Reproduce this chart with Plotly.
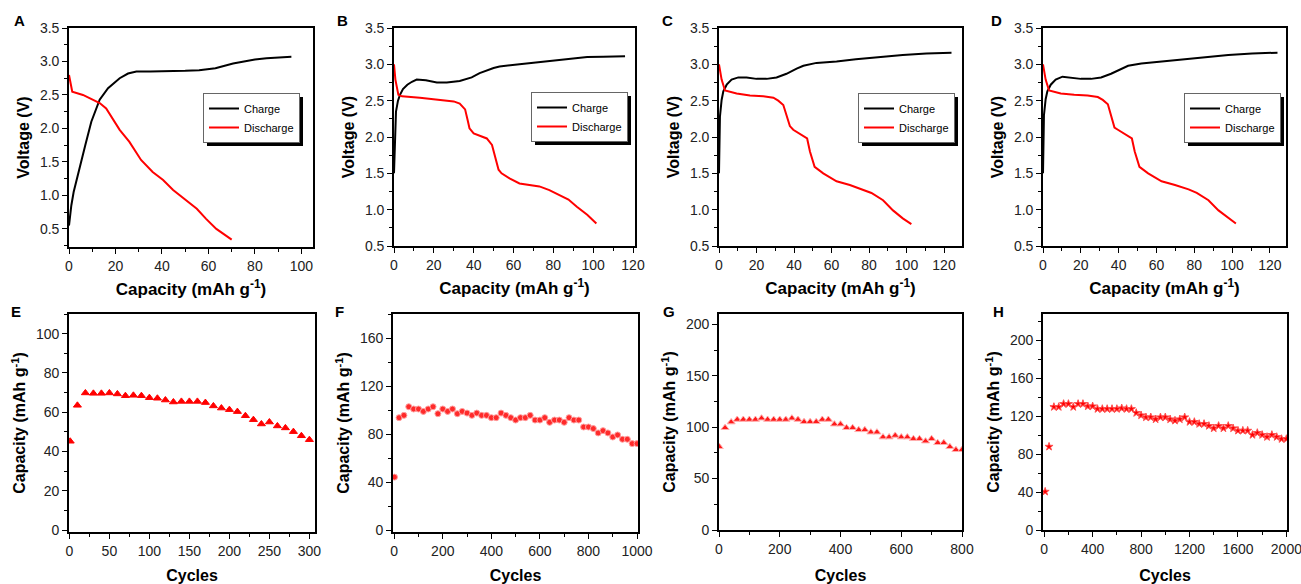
import plotly.graph_objects as go

W, H = 1301, 584

# ---------------- data: voltage profiles (top row) ----------------
a_charge_cap = [0, 1, 2, 4, 7, 9.6, 13.2, 16.8, 21.8, 25.4, 29, 35, 44.8, 50, 56, 63, 70.6, 75, 80, 85, 89, 95.7]
a_charge_v = [0.55, 0.85, 1.05, 1.35, 1.75, 2.1, 2.43, 2.6, 2.75, 2.82, 2.85, 2.85, 2.85, 2.86, 2.87, 2.9, 2.97, 3.0, 3.03, 3.05, 3.06, 3.07]
a_dis_cap = [0, 1.4, 6, 10.3, 13.2, 16, 19.7, 21.8, 26, 31, 36, 40.5, 44.8, 50.5, 55, 59, 63.4, 70]
a_dis_v = [2.8, 2.55, 2.5, 2.43, 2.38, 2.3, 2.1, 1.98, 1.8, 1.53, 1.35, 1.23, 1.08, 0.93, 0.8, 0.65, 0.5, 0.34]

b_charge_cap = [0, 0.5, 1, 2, 3, 4.5, 6.7, 9, 11.4, 16, 21.5, 26.5, 33, 39, 43, 50, 53, 63, 70, 80, 90, 97, 105, 116]
b_charge_v = [1.5, 2.1, 2.35, 2.5, 2.58, 2.66, 2.72, 2.76, 2.79, 2.78, 2.75, 2.75, 2.77, 2.82, 2.88, 2.95, 2.97, 3.0, 3.02, 3.05, 3.08, 3.1, 3.105, 3.11]
b_dis_cap = [0, 0.7, 2.2, 4, 13, 21.5, 30, 33, 35.7, 36.9, 37.9, 40, 46.6, 49.2, 50.8, 52.5, 54, 58, 63, 68, 73, 78, 83.5, 87.6, 91.8, 97, 101.6]
b_dis_v = [3.0, 2.79, 2.58, 2.56, 2.54, 2.52, 2.49, 2.46, 2.38, 2.24, 2.12, 2.05, 1.98, 1.89, 1.73, 1.55, 1.5, 1.43, 1.36, 1.34, 1.32, 1.27, 1.2, 1.14, 1.04, 0.93, 0.81]

c_charge_cap = [0, 0.5, 1.4, 2.3, 4.1, 6.7, 10.3, 14.7, 20, 25.4, 30.7, 36, 41.4, 45, 52, 62.7, 73, 87.5, 98, 110.6, 124]
c_charge_v = [1.5, 2.28, 2.51, 2.63, 2.72, 2.79, 2.82, 2.82, 2.8, 2.8, 2.82, 2.87, 2.94, 2.98, 3.02, 3.04, 3.07, 3.11, 3.13, 3.15, 3.16]
c_dis_cap = [0, 1.4, 3.2, 9.4, 16.5, 23.6, 29, 31.6, 34.3, 36, 37.8, 39.6, 45, 47, 48.5, 51, 55.6, 62.7, 69.8, 77, 81.3, 87.5, 92.8, 98, 102.6]
c_dis_v = [3.0, 2.79, 2.64, 2.6, 2.57, 2.56, 2.54, 2.5, 2.44, 2.31, 2.15, 2.1, 2.01, 1.98, 1.8, 1.59, 1.5, 1.39, 1.34, 1.27, 1.23, 1.13, 0.99, 0.88, 0.8]

d_charge_cap = [0, 0.5, 1.4, 2.3, 4.1, 6.7, 10.3, 14.7, 20, 25.4, 30.7, 36, 41.4, 45, 52, 62.7, 73, 87.5, 98, 110.6, 124]
d_charge_v = [1.5, 2.3, 2.52, 2.63, 2.72, 2.79, 2.83, 2.82, 2.8, 2.8, 2.82, 2.87, 2.94, 2.98, 3.01, 3.04, 3.07, 3.11, 3.13, 3.15, 3.16]
d_dis_cap = [0, 1.4, 3.2, 9.4, 16.5, 23.6, 29, 31.6, 34.3, 36, 37.8, 39.6, 45, 47, 48.5, 51, 55.6, 62.7, 69.8, 77, 81.3, 87.5, 92.8, 98, 102]
d_dis_v = [3.0, 2.79, 2.64, 2.6, 2.58, 2.57, 2.55, 2.51, 2.45, 2.31, 2.13, 2.1, 2.02, 1.98, 1.8, 1.59, 1.5, 1.39, 1.34, 1.28, 1.23, 1.13, 0.99, 0.89, 0.81]

# ---------------- data: cycling (bottom row) ----------------
e_cycles = [1, 10, 20, 30, 40, 50, 60, 70, 80, 90, 100, 110, 120, 130, 140, 150, 160, 170, 180, 190, 200,
            210, 220, 230, 240, 250, 260, 270, 280, 290, 300]
e_cap = [45.2, 63.5, 69.8, 69.6, 69.6, 69.8, 69.3, 68.4, 68.6, 68.4, 67.4, 67.1, 66.2, 65.2, 65.5, 65.5, 65.5,
         64.9, 63.2, 62.1, 61.3, 60.3, 58.2, 56.2, 54.0, 55.0, 53.0, 52.0, 50.1, 48.0, 46.0]

f_cycles = [1, 20, 40, 60, 80, 100, 120, 140, 160, 180, 200, 220, 240, 260, 280, 300, 320, 340, 360, 380, 400,
            420, 440, 460, 480, 500, 520, 540, 560, 580, 600, 620, 640, 660, 680, 700, 720, 740, 760, 780, 800,
            820, 840, 860, 880, 900, 920, 940, 960, 980, 1000]
f_cap = [44.2, 93.7, 95.6, 102.8, 100.9, 100.9, 98.9, 100.9, 102.8, 97.0, 100.9, 98.9, 100.9, 97.0, 98.9, 97.5,
         95.6, 97.5, 95.6, 95.6, 93.7, 93.7, 97.5, 95.6, 93.7, 91.7, 93.7, 93.7, 95.6, 91.7, 91.7, 93.7, 89.8,
         91.7, 91.7, 89.8, 93.7, 91.7, 91.7, 85.9, 85.9, 84.6, 81.0, 82.9, 81.0, 77.6, 79.3, 75.7, 75.7, 72.1, 72.1]

g_cycles = [1, 20, 40, 60, 80, 100, 120, 140, 160, 180, 200, 220, 240, 260, 280, 300, 320, 340, 360, 380, 400,
            420, 440, 460, 480, 500, 520, 540, 560, 580, 600, 620, 640, 660, 680, 700, 720, 740, 760, 780, 800]
g_cap = [80.9, 99.4, 104.9, 107.4, 107.4, 107.4, 107.4, 108.7, 107.4, 107.4, 107.4, 107.4, 108.7, 107.4, 105.2,
         105.2, 105.2, 107.4, 107.4, 102.9, 102.9, 99.4, 99.4, 97.4, 97.4, 95.1, 95.1, 90.3, 90.3, 91.9, 90.3,
         90.3, 88.7, 88.7, 86.4, 88.7, 84.8, 84.8, 80.9, 78.0, 78.0]

h_cycles = [8, 40, 80, 120, 160, 200, 240, 280, 320, 360, 400, 440, 480, 520, 560, 600, 640, 680, 720, 760, 800,
            840, 880, 920, 960, 1000, 1040, 1080, 1120, 1160, 1200, 1240, 1280, 1320, 1360, 1400, 1440, 1480,
            1520, 1560, 1600, 1640, 1680, 1720, 1760, 1800, 1840, 1880, 1920, 1960, 2000]
h_cap = [40.5, 88.0, 129.9, 129.9, 133.1, 133.1, 129.9, 133.1, 133.1, 130.6, 130.6, 127.8, 127.8, 127.8, 127.8,
         127.8, 128.5, 127.8, 127.8, 123.6, 121.1, 119.0, 119.0, 116.9, 119.0, 119.0, 116.9, 115.5, 116.9, 119.0,
         114.1, 114.1, 112.0, 112.0, 109.9, 107.4, 109.9, 107.4, 109.9, 107.4, 104.9, 104.9, 104.9, 100.4, 102.5,
         100.4, 98.2, 100.4, 98.2, 96.1, 96.1]

panel_labels = ["A", "B", "C", "D", "E", "F", "G", "H"]

# ---------------- layout geometry (pixels) ----------------
top_boxes = [(69, 313, 28, 247), (394, 635, 28, 246), (719, 962, 28, 246), (1043, 1286, 28, 246)]
bot_boxes = [(69, 315, 314, 532), (393, 638, 314, 532), (719, 962, 314, 530), (1043, 1287, 314, 530)]
legend_pos = [(203, 93), (531, 92), (858, 93), (1184, 93)]
legend_size = (97, 50)
label_pos = [(19, 20), (342, 20), (667, 20), (996, 20), (16, 311), (339, 311), (669, 311), (998, 311)]

top_xr = [[0, 105], [0, 121], [0, 129.6], [0, 128.5]]
top_yr = [[0.23, 3.5], [0.5, 3.5], [0.5, 3.5], [0.5, 3.5]]
top_xd = [(20, 10), (20, 10), (20, 10), (20, 10)]

bot_xr = [[-0.5, 307], [-5, 1004], [0, 800], [-10, 2005]]
bot_yr = [[-1, 110], [-1.5, 180], [0, 210], [0, 228]]
bot_xd = [(50, 25), (200, 100), (200, 100), (400, 200)]
bot_yd = [(20, 10), (40, 20), (50, 25), (40, 20)]

FONT = "Liberation Sans, Arial, sans-serif"
TICKFONT = dict(family=FONT, size=14, color="#222222")


def xdom(l, r):
    return [l / W, r / W]


def ydom(t, b):
    return [1 - b / H, 1 - t / H]


fig = go.Figure()
layout = dict(
    width=W, height=H, margin=dict(l=0, r=0, t=0, b=0, pad=0),
    paper_bgcolor="white", plot_bgcolor="white",
    font=dict(family=FONT, color="#000"),
    annotations=[], shapes=[],
)


def axis_common(rng, dtick, mdtick):
    return dict(
        range=rng, dtick=dtick, tick0=0, showgrid=False, zeroline=False,
        showline=True, linecolor="black", linewidth=1.6, mirror=True,
        ticks="outside", ticklen=5, tickwidth=1.3, tickcolor="black",
        minor=dict(ticks="outside", ticklen=3, tickwidth=1.1, tickcolor="black", dtick=mdtick, tick0=0),
        tickfont=TICKFONT, automargin=False, ticklabeloverflow="allow",
    )


charge_sets = [(a_charge_cap, a_charge_v, a_dis_cap, a_dis_v),
               (b_charge_cap, b_charge_v, b_dis_cap, b_dis_v),
               (c_charge_cap, c_charge_v, c_dis_cap, c_dis_v),
               (d_charge_cap, d_charge_v, d_dis_cap, d_dis_v)]

for i, (cc, cv, dc, dv) in enumerate(charge_sets):
    n = i + 1
    xs = "" if n == 1 else str(n)
    lg = "legend" if n == 1 else f"legend{n}"
    fig.add_trace(go.Scatter(x=cc, y=cv, mode="lines", name="Charge",
                             line=dict(color="black", width=2), xaxis="x" + xs, yaxis="y" + xs, legend=lg))
    fig.add_trace(go.Scatter(x=dc, y=dv, mode="lines", name="Discharge",
                             line=dict(color="#ff0000", width=2), xaxis="x" + xs, yaxis="y" + xs, legend=lg))
    l, r, t, b = top_boxes[i]
    xa = axis_common(top_xr[i], top_xd[i][0], top_xd[i][1])
    xa.update(domain=xdom(l, r), anchor="y" + xs,
              title=dict(text="<b>Capacity (mAh g<sup>-1</sup>)</b>", standoff=11,
                         font=dict(family=FONT, size=17, color="black")))
    ya = axis_common(top_yr[i], 0.5, 0.25)
    ya.update(domain=ydom(t, b), anchor="x" + xs, tickformat=".1f",
              title=dict(text="<b>Voltage (V)</b>", standoff=6,
                         font=dict(family=FONT, size=16, color="black")))
    layout["xaxis" + xs] = xa
    layout["yaxis" + xs] = ya
    lx, ly = legend_pos[i]
    layout[lg] = dict(x=lx / W, y=1 - ly / H, xanchor="left", yanchor="top",
                      bgcolor="white", bordercolor="#666666", borderwidth=1,
                      font=dict(family=FONT, size=11, color="black"), itemwidth=30,
                      tracegroupgap=0)
    # drop shadow behind the legend box
    lw, lh = legend_size
    layout["shapes"].append(dict(type="rect", xref="paper", yref="paper", layer="above",
                                 x0=(lx + 4) / W, x1=(lx + lw + 3) / W,
                                 y0=1 - (ly + lh + 3) / H, y1=1 - (ly + 4) / H,
                                 fillcolor="black", line=dict(width=0), opacity=1))

bot_sets = [(e_cycles, e_cap, "triangle-up", 7, "#ff0000", "#ff0000"),
            (f_cycles, f_cap, "circle", 6, "#ff2a2a", "#ff9f9f"),
            (g_cycles, g_cap, "triangle-up", 7, "#ff1a1a", "#ffb0b0"),
            (h_cycles, h_cap, "star", 6, "#ff0000", "#ff5050")]

for i, (cx, cy, sym, sz, col, lcol) in enumerate(bot_sets):
    n = i + 5
    xs = str(n)
    fig.add_trace(go.Scatter(x=cx, y=cy, mode="markers", showlegend=False,
                             marker=dict(symbol=sym, size=sz, color=col, line=dict(color=lcol, width=1)),
                             xaxis="x" + xs, yaxis="y" + xs))
    l, r, t, b = bot_boxes[i]
    xa = axis_common(bot_xr[i], bot_xd[i][0], bot_xd[i][1])
    xa.update(domain=xdom(l, r), anchor="y" + xs,
              title=dict(text="<b>Cycles</b>", standoff=14,
                         font=dict(family=FONT, size=16, color="black")))
    ya = axis_common(bot_yr[i], bot_yd[i][0], bot_yd[i][1])
    ya.update(domain=ydom(t, b), anchor="x" + xs,
              title=dict(text="<b>Capacity (mAh g<sup>-1</sup>)</b>", standoff=6,
                         font=dict(family=FONT, size=16, color="black")))
    layout["xaxis" + xs] = xa
    layout["yaxis" + xs] = ya

for lab, (px, py) in zip(panel_labels, label_pos):
    layout["annotations"].append(dict(text=f"<b>{lab}</b>", x=px / W, y=1 - py / H, xref="paper", yref="paper",
                                      xanchor="center", yanchor="middle", showarrow=False,
                                      font=dict(family=FONT, size=15, color="black")))

fig.update_layout(**layout)
fig.write_html("out.html", config={"displayModeBar": False},
               post_script="document.body.style.margin='0px';document.body.style.overflow='hidden';")
